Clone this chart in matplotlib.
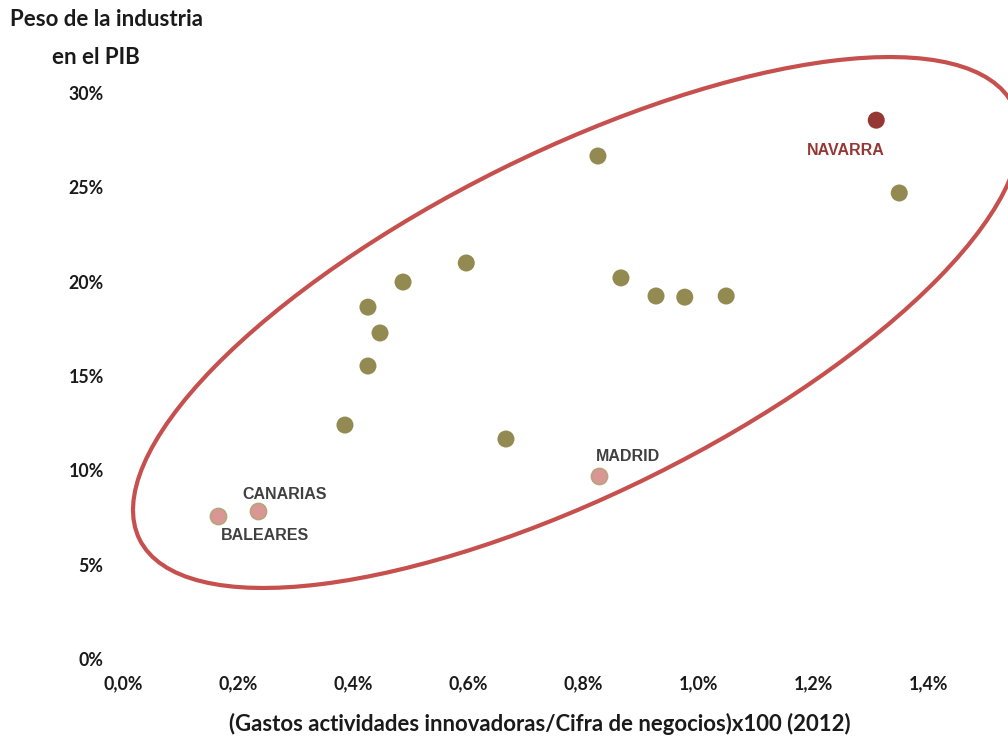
import matplotlib
matplotlib.use("Agg")
import matplotlib.pyplot as plt
from matplotlib.patches import Ellipse
from matplotlib.ticker import FuncFormatter

# Data: x = (innovation spend / turnover) x100 (%), y = industry weight in GDP (%)
x_other = [1.35, 0.826, 0.866, 0.927, 0.977, 1.049, 0.597, 0.487, 0.426, 0.447, 0.426, 0.386, 0.666]
y_other = [24.7, 26.66, 20.2, 19.24, 19.18, 19.24, 20.99, 19.98, 18.65, 17.28, 15.53, 12.4, 11.66]

navarra_x = [1.31]
navarra_y = [28.56]

low_names = ["MADRID", "CANARIAS", "BALEARES"]
low_x = [0.828, 0.235, 0.165]
low_y = [9.7, 7.84, 7.58]

x_ticks = [0.0, 0.2, 0.4, 0.6, 0.8, 1.0, 1.2, 1.4]
y_ticks = [0, 5, 10, 15, 20, 25, 30]

W, H = 1008, 742
fig = plt.figure(figsize=(W / 100, H / 100), dpi=100)
ax = fig.add_axes([123 / W, (H - 659) / H, (985.5 - 123) / W, (659 - 93) / H])
ax.set_xlim(0, 1.5)
ax.set_ylim(0, 30)
for s in ax.spines.values():
    s.set_visible(False)

ax.set_xticks(x_ticks)
ax.set_yticks(y_ticks)
ax.xaxis.set_major_formatter(FuncFormatter(lambda v, p: f"{v:.1f}".replace(".", ",") + "%"))
ax.yaxis.set_major_formatter(FuncFormatter(lambda v, p: f"{v:.0f}%"))
ax.tick_params(length=0)
ax.tick_params(axis="x", pad=12)
ax.tick_params(axis="y", pad=14)
for lab in ax.get_xticklabels() + ax.get_yticklabels():
    lab.set_fontfamily("Lato")
    lab.set_fontweight("bold")
    lab.set_fontsize(12.8)
    lab.set_color("#1a1a1a")

olive = "#938A52"
ax.scatter(x_other, y_other, s=150, color=olive, edgecolors="none", zorder=3)
ax.scatter(navarra_x, navarra_y, s=150, color="#953735", edgecolors="none", zorder=3)
ax.scatter(low_x, low_y, s=135, color="#D99694", edgecolors="#B5A57A", linewidths=1.2, zorder=3)

lab_font = dict(family="Liberation Sans", weight="bold", size=11.5)
ax.annotate("NAVARRA", (navarra_x[0], navarra_y[0]), xytext=(-22, -22), textcoords="offset points",
            ha="center", va="center", color="#953735", **lab_font)
offsets = {"MADRID": (21, 14), "CANARIAS": (19, 12), "BALEARES": (34, -14)}
for n, xv, yv in zip(low_names, low_x, low_y):
    ax.annotate(n, (xv, yv), xytext=offsets[n], textcoords="offset points",
                ha="center", va="center", color="#404040", **lab_font)

# Highlight ellipse (annotation, in figure inches)
ell = Ellipse((576.5 / 100, (H - 322.5) / 100), 975.6 / 100, 341.8 / 100, angle=26.4,
              transform=fig.dpi_scale_trans, fill=False, edgecolor="#C5504D", linewidth=3.0,
              clip_on=False, zorder=2)
fig.add_artist(ell)

fig.text(107 / W, 1 - 20 / H, "Peso de la industria", ha="center", va="center",
         family="Lato", weight="bold", size=16, color="#1a1a1a")
fig.text(96 / W, 1 - 57 / H, "en el PIB", ha="center", va="center",
         family="Lato", weight="bold", size=16, color="#1a1a1a")
fig.text(540 / W, 1 - 724 / H, "(Gastos actividades innovadoras/Cifra de negocios)x100 (2012)",
         ha="center", va="center", family="Lato", weight="bold", size=15.9, color="#1a1a1a")

fig.savefig("out.png", dpi=100)
